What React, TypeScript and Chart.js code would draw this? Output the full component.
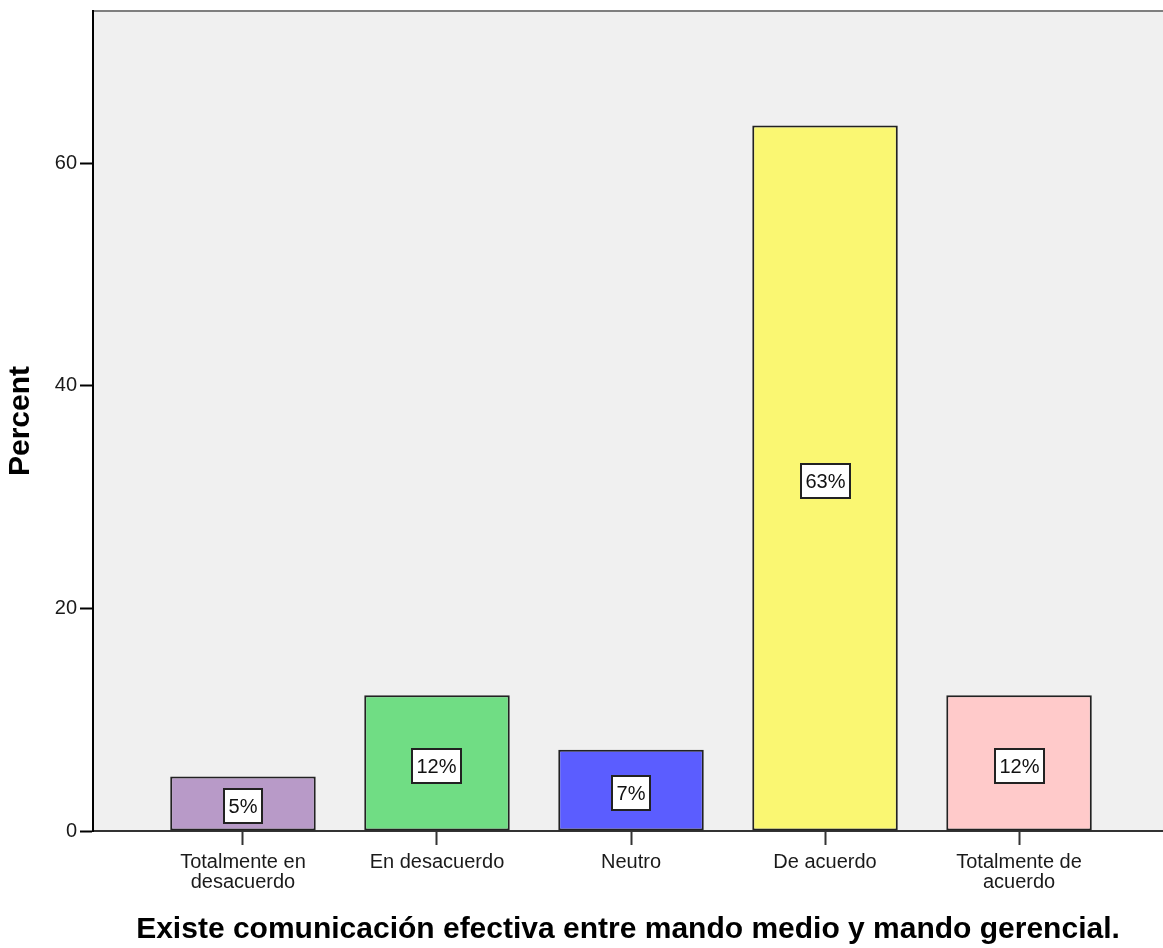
import React, { useEffect, useRef } from 'react';
import { Chart, registerables } from 'chart.js';

Chart.register(...registerables);

const categories: (string | string[])[] = [
  ['Totalmente en', 'desacuerdo'],
  'En desacuerdo',
  'Neutro',
  'De acuerdo',
  ['Totalmente de', 'acuerdo'],
];
const percentValues = [4.9, 12.2, 7.3, 63.4, 12.2];
const barColors = ['#b89ac8', '#70dd84', '#5b5dff', '#faf772', '#ffcaca'];
const yTickValues = [0, 20, 40, 60];
const xAxisTitle = 'Existe comunicación efectiva entre mando medio y mando gerencial.';
const yAxisTitle = 'Percent';

const FONT = '"Liberation Sans", Arial, sans-serif';

const backgroundPlugin = {
  id: 'plotBackground',
  beforeDraw(chart: any) {
    const { ctx, chartArea: a } = chart;
    ctx.save();
    ctx.fillStyle = '#f0f0f0';
    ctx.fillRect(a.left, a.top, a.right - a.left, a.bottom - a.top);
    ctx.strokeStyle = '#7f7f7f';
    ctx.lineWidth = 2;
    ctx.beginPath();
    ctx.moveTo(a.left, a.top);
    ctx.lineTo(a.right, a.top);
    ctx.stroke();
    ctx.restore();
  },
};

const boxLabelPlugin = {
  id: 'boxLabels',
  afterDatasetsDraw(chart: any) {
    const { ctx } = chart;
    const meta = chart.getDatasetMeta(0);
    ctx.save();
    ctx.font = `20px ${FONT}`;
    ctx.textAlign = 'center';
    ctx.textBaseline = 'middle';
    meta.data.forEach((el: any, i: number) => {
      const text = `${Math.round(percentValues[i])}%`;
      const tw = ctx.measureText(text).width;
      const w = Math.round(tw + 11);
      const h = 36;
      const cx = el.x;
      const cy = (el.y + el.base) / 2 + 3;
      const x0 = Math.round(cx - w / 2);
      const y0 = Math.round(cy - h / 2);
      ctx.fillStyle = '#ffffff';
      ctx.fillRect(x0, y0, w, h);
      ctx.strokeStyle = '#222222';
      ctx.lineWidth = 2;
      ctx.strokeRect(x0 + 1, y0 + 1, w - 2, h - 2);
      ctx.fillStyle = '#111111';
      ctx.fillText(text, x0 + w / 2, y0 + h / 2 + 1);
    });
    ctx.restore();
  },
};

export default function App() {
  const canvasRef = useRef<HTMLCanvasElement | null>(null);

  useEffect(() => {
    document.body.style.margin = '0';
    const canvas = canvasRef.current;
    if (!canvas) return;
    const chart = new Chart(canvas, {
      type: 'bar',
      data: {
        datasets: [
          {
            data: percentValues.map((v, i) => ({ x: i, y: v })),
            backgroundColor: barColors,
            borderColor: '#222222',
            borderWidth: 2,
            borderSkipped: false,
            categoryPercentage: 1,
            barPercentage: 0.75,
          },
        ],
      },
      options: {
        responsive: false,
        animation: false,
        devicePixelRatio: 1,
        layout: { padding: { top: 11, left: 0, right: 0, bottom: 0 } },
        plugins: {
          legend: { display: false },
          tooltip: { enabled: false },
        },
        scales: {
          x: {
            type: 'linear',
            offset: false,
            min: -0.773,
            max: 4.742,
            afterBuildTicks: (scale: any) => {
              scale.ticks = categories.map((_, i) => ({ value: i }));
            },
            afterFit: (scale: any) => {
              scale.height = 117;
              scale.paddingLeft = 0;
              scale.paddingRight = 0;
            },
            ticks: {
              autoSkip: false,
              maxRotation: 0,
              minRotation: 0,
              padding: 7,
              color: '#1a1a1a',
              font: { family: FONT, size: 20, lineHeight: 1.0 },
              callback: (v: any) => categories[Math.round(Number(v))] as any,
            },
            grid: {
              display: true,
              offset: false,
              drawOnChartArea: false,
              drawTicks: true,
              tickLength: 14,
              tickWidth: 2,
              tickColor: '#333333',
            },
            border: { display: true, color: '#333333', width: 2 },
            title: {
              display: true,
              text: xAxisTitle,
              color: '#000000',
              font: { family: FONT, size: 30, weight: 'bold', lineHeight: 1.2 },
              padding: { top: 0, bottom: 0 },
            },
          },
          y: {
            type: 'linear',
            min: 0,
            max: 73.7,
            afterBuildTicks: (scale: any) => {
              scale.ticks = yTickValues.map((v) => ({ value: v }));
            },
            afterFit: (scale: any) => {
              scale.width = 93;
              scale.paddingTop = 0;
              scale.paddingBottom = 0;
            },
            ticks: {
              padding: 3,
              color: '#1a1a1a',
              font: { family: FONT, size: 20 },
            },
            grid: {
              display: true,
              drawOnChartArea: false,
              drawTicks: true,
              tickLength: 13,
              tickWidth: 2,
              tickColor: '#000000',
            },
            border: { display: true, color: '#000000', width: 2 },
            title: {
              display: true,
              text: yAxisTitle,
              color: '#000000',
              font: { family: FONT, size: 30, weight: 'bold', lineHeight: 1.2 },
              padding: { top: 3, bottom: 0 },
            },
          },
        },
      },
      plugins: [backgroundPlugin, boxLabelPlugin],
    } as any);
    return () => {
      chart.destroy();
    };
  }, []);

  return (
    <div style={{ width: 1163, height: 948 }}>
      <canvas ref={canvasRef} width={1163} height={948} style={{ display: 'block' }} />
    </div>
  );
}
